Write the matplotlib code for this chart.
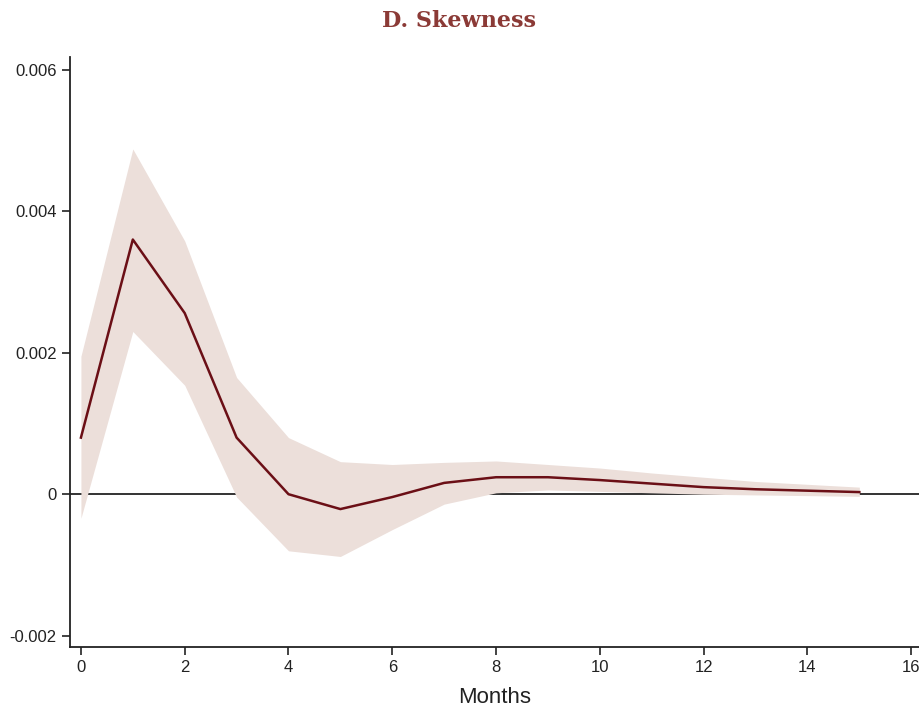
import matplotlib.pyplot as plt
import numpy as np

months = np.arange(16)
irf = [0.0008, 0.0036, 0.00256, 0.0008, 0.0, -0.00021, -0.00004, 0.00016, 0.00024,
       0.00024, 0.0002, 0.00015, 0.0001, 0.00007, 0.00005, 0.00003]
upper = [0.00195, 0.00488, 0.00358, 0.00165, 0.0008, 0.00046, 0.00042, 0.00045, 0.00047,
         0.00042, 0.00037, 0.0003, 0.00024, 0.00018, 0.00014, 0.0001]
lower = [-0.00034, 0.0023, 0.00154, -0.00004, -0.0008, -0.00088, -0.0005, -0.00014, 0.00002,
         0.00006, 0.00004, 0.00002, 0.0, -0.00001, -0.00002, -0.00003]
yticks = [-0.002, 0, 0.002, 0.004, 0.006]
ytick_labels = ["-0.002", "0", "0.002", "0.004", "0.006"]

plt.rcParams['font.family'] = ['Liberation Sans', 'DejaVu Sans']

fig = plt.figure(figsize=(9.19, 7.10), dpi=100)
ax = fig.add_axes([0.0762, 0.0887, 0.9238, 0.831])

# zero line sits behind the confidence band
ax.axhline(0, color="#333333", lw=1.4, zorder=1)
ax.fill_between(months, lower, upper, color="#ECDFDA", lw=0, zorder=2)
ax.plot(months, irf, color="#6B0F16", lw=1.8, zorder=3)

ax.set_xlim(-0.21, 16.15)
ax.set_ylim(-0.00216, 0.00618)
ax.set_xticks(range(0, 17, 2))
ax.set_yticks(yticks)
ax.set_yticklabels(ytick_labels)

for s in ["top", "right"]:
    ax.spines[s].set_visible(False)
for s in ["left", "bottom"]:
    ax.spines[s].set_color("#222222")
    ax.spines[s].set_linewidth(1.3)
ax.tick_params(colors="#222222", labelsize=12, length=6, width=1.2)
ax.tick_params(axis="x", pad=3)

ax.set_xlabel("Months", fontsize=16, color="#222222", labelpad=9)
fig.text(0.5, 0.970, "D. Skewness", ha="center", va="center", fontsize=16,
         fontweight="bold", family="DejaVu Serif", color="#8B3A36")

fig.savefig("out.png", dpi=100)
